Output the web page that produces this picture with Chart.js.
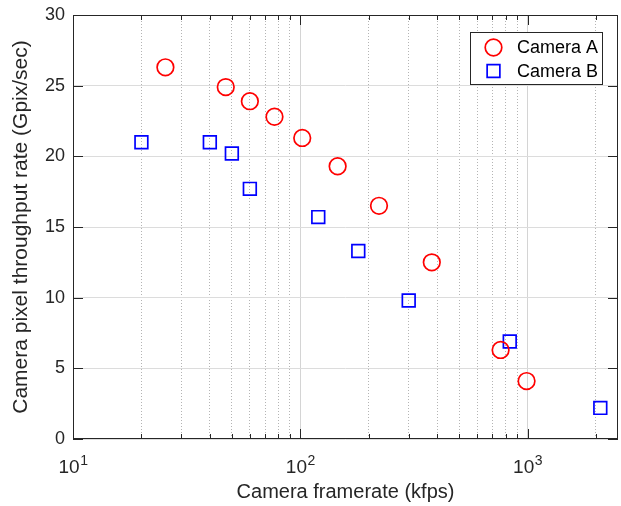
<!DOCTYPE html>
<html>
<head>
<meta charset="utf-8">
<script src="https://cdn.jsdelivr.net/npm/chart.js@4.4.0/dist/chart.umd.min.js"></script>
<style>
  html, body { margin: 0; padding: 0; background: #fff; }
  #wrap { width: 621px; height: 506px; }
</style>
</head>
<body>
<div id="wrap"><canvas id="rateChart" width="621" height="506"></canvas></div>
<script>
// Camera A: framerate (kfps) / pixel throughput (Gpix/sec)
var fpsA = [25.5, 47, 60, 77, 102, 146, 222, 379, 761, 990];
var rateA = [26.3, 24.9, 23.9, 22.8, 21.3, 19.3, 16.5, 12.5, 6.3, 4.1];
// Camera B
var fpsB = [20, 40, 50, 60, 120, 180, 300, 835, 2090];
var rateB = [21.0, 21.0, 20.2, 17.7, 15.7, 13.3, 9.8, 6.9, 2.2];

var seriesNames = ['Camera A', 'Camera B'];

// log axis ticks: every decade step, labels only on the powers of ten
var xTickValues = [10, 20, 30, 40, 50, 60, 70, 80, 90,
                   100, 200, 300, 400, 500, 600, 700, 800, 900,
                   1000, 2000];
var xMajor = [10, 100, 1000];
var xMajorBase = ['10', '10', '10'];
var xMajorExp = ['1', '2', '3'];
var yTickValues = [0, 5, 10, 15, 20, 25, 30];

var FONT = "'Liberation Sans', Arial, sans-serif";
var INK = '#262626';

function toPoints(xs, ys) {
	return xs.map(function(x, i) { return {x: x, y: ys[i]}; });
}

// box around the plot + ticks pointing inwards on all four sides
var axesBox = {
	id: 'axesBox',
	afterDatasetsDraw: function(chart) {
		var ctx = chart.ctx, a = chart.chartArea;
		var xs = chart.scales.x, ys = chart.scales.y;
		ctx.save();
		ctx.strokeStyle = INK;
		ctx.lineWidth = 1;
		ctx.beginPath();
		xTickValues.forEach(function(v) {
			var px = Math.round(xs.getPixelForValue(v)) + 0.5;
			var len = xMajor.indexOf(v) >= 0 ? 10 : 5;
			ctx.moveTo(px, a.bottom); ctx.lineTo(px, a.bottom - len);
			ctx.moveTo(px, a.top); ctx.lineTo(px, a.top + len);
		});
		yTickValues.forEach(function(v) {
			var py = Math.round(ys.getPixelForValue(v)) + 0.5;
			ctx.moveTo(a.left, py); ctx.lineTo(a.left + 10, py);
			ctx.moveTo(a.right, py); ctx.lineTo(a.right - 10, py);
		});
		ctx.stroke();
		ctx.strokeRect(a.left + 0.5, a.top + 0.5, a.right - a.left - 1, a.bottom - a.top - 1);

		// decade labels 10^n with a raised exponent
		ctx.fillStyle = INK;
		ctx.textBaseline = 'alphabetic';
		ctx.textAlign = 'left';
		xMajor.forEach(function(v, i) {
			var px = xs.getPixelForValue(v);
			ctx.font = '19px ' + FONT;
			var wb = ctx.measureText(xMajorBase[i]).width;
			ctx.font = '14px ' + FONT;
			var we = ctx.measureText(xMajorExp[i]).width;
			var x0 = px - (wb + we) / 2;
			ctx.font = '19px ' + FONT;
			ctx.fillText(xMajorBase[i], x0, a.bottom + 34);
			ctx.font = '14px ' + FONT;
			ctx.fillText(xMajorExp[i], x0 + wb + 0.5, a.bottom + 26);
		});
		ctx.restore();
	}
};

// legend box in the upper right corner
var boxLegend = {
	id: 'boxLegend',
	afterDraw: function(chart) {
		var ctx = chart.ctx;
		var bx = 470.5, by = 32.5, bw = 132, bh = 52;
		ctx.save();
		ctx.fillStyle = '#fff';
		ctx.fillRect(bx, by, bw, bh);
		ctx.strokeStyle = INK;
		ctx.lineWidth = 1;
		ctx.strokeRect(bx, by, bw, bh);
		chart.data.datasets.forEach(function(ds, i) {
			var cx = 493.5, cy = 47.5 + i * 23.5;
			ctx.strokeStyle = ds.borderColor;
			ctx.lineWidth = ds.borderWidth;
			ctx.beginPath();
			if (ds.pointStyle === 'circle') {
				ctx.arc(cx, cy, ds.pointRadius, 0, Math.PI * 2);
			} else {
				var s = ds.pointRadius * Math.SQRT1_2;
				ctx.rect(cx - s, cy - s, 2 * s, 2 * s);
			}
			ctx.stroke();
			ctx.fillStyle = '#000';
			ctx.font = '18px ' + FONT;
			ctx.textBaseline = 'middle';
			ctx.textAlign = 'left';
			ctx.fillText(ds.label, 517, cy + 1);
		});
		ctx.restore();
	}
};

var ctx = document.getElementById('rateChart');
var rateChart = new Chart(ctx, {
	type: 'scatter',
	data: {
		datasets: [{
			label: seriesNames[0],
			data: toPoints(fpsA, rateA),
			pointStyle: 'circle',
			pointRadius: 8.3,
			borderWidth: 1.7,
			borderColor: '#ff0000',
			backgroundColor: 'rgba(0,0,0,0)'
		}, {
			label: seriesNames[1],
			data: toPoints(fpsB, rateB),
			pointStyle: 'rect',
			pointRadius: 9,
			borderWidth: 1.7,
			borderColor: '#0000ff',
			backgroundColor: 'rgba(0,0,0,0)'
		}]
	},
	plugins: [axesBox, boxLegend],
	options: {
		responsive: false,
		animation: false,
		events: [],
		layout: {
			autoPadding: false,
			padding: { top: 15, right: 3, left: 0, bottom: 0 }
		},
		plugins: {
			legend: { display: false },
			tooltip: { enabled: false }
		},
		scales: {
			x: {
				type: 'logarithmic',
				min: 10,
				max: 2500,
				afterFit: function(scale) {
					scale.height = 67;
					scale.paddingLeft = 0;
					scale.paddingRight = 0;
				},
				afterBuildTicks: function(scale) {
					scale.ticks = xTickValues.map(function(v) {
						return {value: v, major: xMajor.indexOf(v) >= 0};
					});
				},
				ticks: {
					autoSkip: false,
					maxRotation: 0,
					callback: function() { return ''; }
				},
				grid: {
					drawTicks: false,
					lineWidth: 1,
					color: function(c) {
						if (!c.tick) return '#dcdcdc';
						return c.tick.major ? '#d4d4d4' : '#b4b4b4';
					}
				},
				border: {
					display: false,
					dash: function(c) {
						return (c.tick && !c.tick.major) ? [1, 2] : [];
					}
				},
				title: {
					display: true,
					text: 'Camera framerate (kfps)',
					color: INK,
					font: { family: FONT, size: 20 },
					padding: { top: 0, bottom: 2 }
				}
			},
			y: {
				min: 0,
				max: 30,
				afterFit: function(scale) {
					scale.width = 73;
					scale.paddingTop = 0;
					scale.paddingBottom = 0;
				},
				afterBuildTicks: function(scale) {
					scale.ticks = yTickValues.map(function(v) { return {value: v}; });
				},
				ticks: {
					padding: 8,
					color: INK,
					font: { family: FONT, size: 18 }
				},
				grid: {
					drawTicks: false,
					lineWidth: 1,
					color: '#dcdcdc'
				},
				border: { display: false },
				title: {
					display: true,
					text: 'Camera pixel throughput rate (Gpix/sec)',
					color: INK,
					font: { family: FONT, size: 21 },
					padding: { top: 9, bottom: 0 }
				}
			}
		}
	}
});
</script>
</body>
</html>
